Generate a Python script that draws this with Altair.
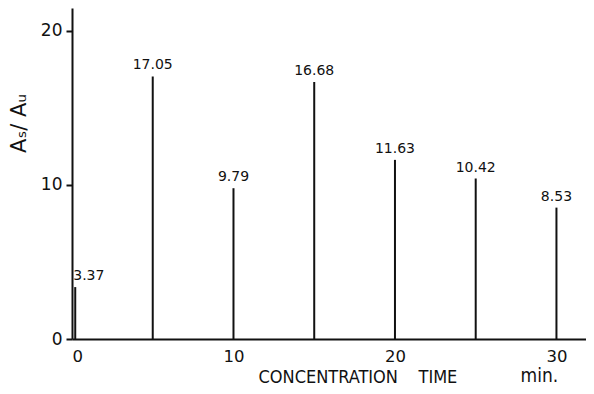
import altair as alt
import pandas as pd

times = [0.2, 5, 10, 15, 20, 25, 30]
ratios = [3.37, 17.05, 9.79, 16.68, 11.63, 10.42, 8.53]
labels = ["3.37", "17.05", "9.79", "16.68", "11.63", "10.42", "8.53"]
x_ticks = [0, 10, 20, 30]
y_ticks = [0, 10, 20]

df = pd.DataFrame({"t": times, "v": ratios, "lab": labels, "i": list(range(len(times)))})

W, H = 514, 331
FONT = "DejaVu Sans"
CFONT = "DejaVu Sans Condensed"
INK = "#111111"
NB = "\u00a0"

x = alt.X("t:Q", scale=alt.Scale(domain=[0, 31.83], nice=False),
          axis=alt.Axis(values=x_ticks, ticks=False, tickSize=0, grid=False,
                        labelPadding=9, labelFontSize=16.5, labelFont=FONT, labelColor=INK,
                        domainColor=INK, domainWidth=2,
                        title="CONCENTRATION" + NB * 4 + "TIME", titleFont=CFONT,
                        titleFontSize=18, titleFontWeight="normal", titleColor=INK,
                        titleX=186, titleY=43, titleAlign="left", titleBaseline="alphabetic"))
y = alt.Y("v:Q", scale=alt.Scale(domain=[0, 21.49], nice=False),
          axis=alt.Axis(values=y_ticks, tickSize=6, tickWidth=2, tickColor=INK, grid=False,
                        labelPadding=4, labelFontSize=17, labelFont=FONT, labelColor=INK,
                        domainColor=INK, domainWidth=2,
                        title="A\u209b/ A\u1d64", titleFont=FONT, titleFontSize=21,
                        titleFontWeight="normal", titleColor=INK, titleAngle=270,
                        titleX=-47, titleY=115, titleAlign="center", titleBaseline="alphabetic"))

base = alt.Chart(df)
rules = base.mark_rule(color=INK, strokeWidth=2).encode(x=x, y=y, y2=alt.Y2(datum=0))
first_lab = base.transform_filter("datum.i == 0").mark_text(
    align="left", baseline="bottom", dx=-2, dy=-4, font=FONT, fontSize=14, color=INK
).encode(x="t:Q", y="v:Q", text="lab:N")
other_lab = base.transform_filter("datum.i > 0").mark_text(
    align="center", baseline="bottom", dy=-4, font=FONT, fontSize=14, color=INK
).encode(x="t:Q", y="v:Q", text="lab:N")
unit = alt.Chart(pd.DataFrame({"t": [x_ticks[-1]], "u": ["min."]})).mark_text(
    align="center", baseline="alphabetic", dx=-17, font=CFONT,
    fontSize=19, color=INK
).encode(x="t:Q", y=alt.value(H + 43), text="u:N")

chart = alt.layer(rules, first_lab, other_lab, unit).properties(
    width=W, height=H,
    autosize=alt.AutoSizeParams(type="none"),
    padding={"left": 64, "top": 0, "right": 0, "bottom": 47},
    background="white",
).configure_view(stroke=None)

chart.save("out.html", embed_options={"renderer": "svg", "actions": False})
